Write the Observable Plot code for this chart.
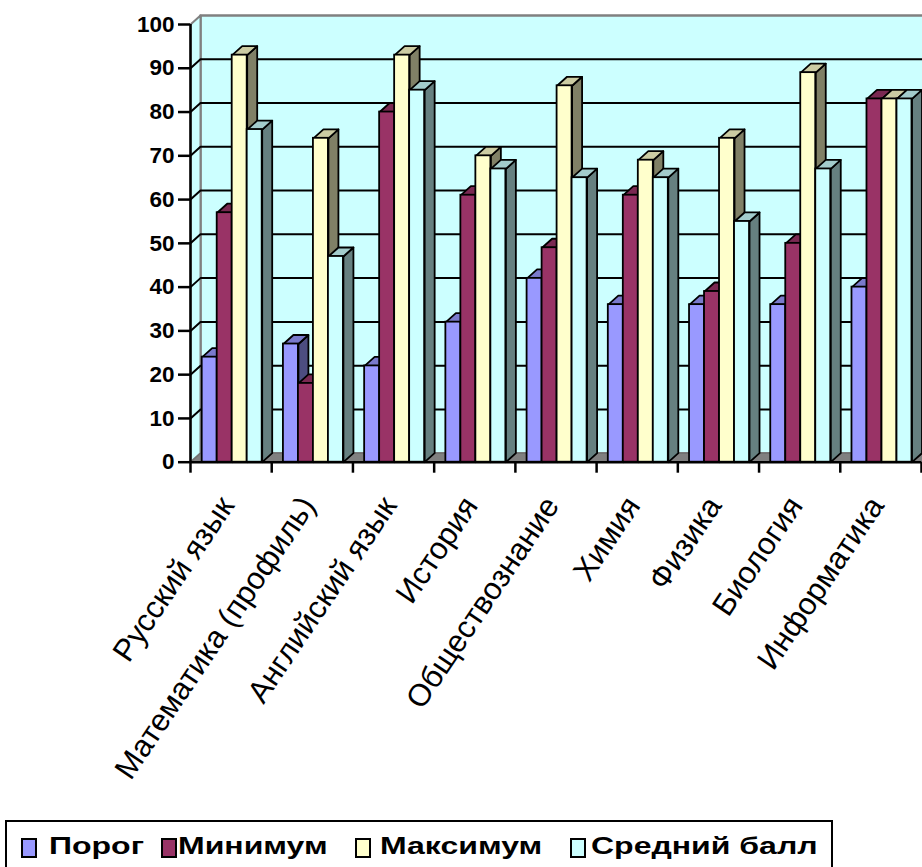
<!DOCTYPE html>
<html>
<head>
<meta charset="utf-8">
<script src="https://cdn.jsdelivr.net/npm/d3@7"></script>
<script src="https://cdn.jsdelivr.net/npm/@observablehq/plot@0.6"></script>
<style>
  html, body { margin: 0; padding: 0; background: #fff; overflow: hidden; }
  #chart svg { display: block; overflow: hidden; }
  #legend { position: relative; width: 922px; height: 47px; font-family: Arial, "Liberation Sans", sans-serif; }
  #legend .box { position: absolute; left: 5px; top: 0; width: 828px; height: 70px; border: 2px solid #000; box-sizing: border-box; }
  #legend .sw { position: absolute; top: 18px; width: 16px; height: 20px; border: 2px solid #000; box-sizing: border-box; }
  #legend .lb { position: absolute; top: 13px; font-size: 32px; line-height: 32px; font-weight: bold; white-space: nowrap; transform: scaleY(0.76); transform-origin: left top; color: #000; }
</style>
</head>
<body>
<div id="chart"></div>
<div id="legend"></div>
<script>
// ---- data ----
const categories = ["Русский язык", "Математика (профиль)", "Английский язык", "История", "Обществознание", "Химия", "Физика", "Биология", "Информатика"];
const seriesNames = ["Порог", "Минимум", "Максимум", "Средний балл"];
const porog   = [24, 27, 22, 32, 42, 36, 36, 36, 40];
const minimum = [57, 18, 80, 61, 49, 61, 39, 50, 83];
const maximum = [93, 74, 93, 70, 86, 69, 74, 89, 83];
const average = [76, 47, 85, 67, 65, 65, 55, 67, 83];
const yTicks = [0, 10, 20, 30, 40, 50, 60, 70, 80, 90, 100];

const seriesValues = [porog, minimum, maximum, average];
const frontColors = ["#9999FF", "#993366", "#FFFFCC", "#CCFFFF"];
const topColors   = ["#7A7ACC", "#7A2952", "#CCCCA3", "#A3CCCC"];
const sideColors  = ["#4D4D80", "#4D1A33", "#808066", "#668080"];

// ---- geometry (pixel constants converted to data units) ----
const W = 922, H = 820;
const mLeft = 190, mRight = 1, mTop = 24, yZero = 461.7;
const nCat = categories.length;
const catPx = (W - mRight - mLeft) / nCat;
const unitPx = (yZero - mTop) / 100;
const depthX = 10 / catPx, depthY = 9 / unitPx;
const gapX = 11.7 / catPx, barW = 15 / catPx;

function poly(id, pts) { return pts.concat([pts[0]]).map(([x, y]) => ({id, x, y})); }

const bars = seriesValues.map((vals, s) => vals.map((v, i) => {
  const xl = i + gapX + s * barW;
  return {s, i, v, xl, xr: xl + barW, cat: categories[i]};
}));
const sides = bars.map(arr => arr.flatMap(b => poly(b.i, [[b.xr, 0], [b.xr + depthX, depthY], [b.xr + depthX, b.v + depthY], [b.xr, b.v]])));
const tops = bars.map(arr => arr.flatMap(b => poly(b.i, [[b.xl, b.v], [b.xr, b.v], [b.xr + depthX, b.v + depthY], [b.xl + depthX, b.v + depthY]])));

const backWall = poly(0, [[depthX, depthY], [nCat + depthX, depthY], [nCat + depthX, 100 + depthY], [depthX, 100 + depthY]]);
const leftWall = poly(0, [[0, 0], [0, 100], [depthX, 100 + depthY], [depthX, depthY]]);
const floor = poly(0, [[0, 0], [nCat, 0], [nCat + depthX, depthY], [depthX, depthY]]);
const grid = yTicks.filter(v => v > 0 && v < 100).flatMap(v => [
  {id: v, x: 0, y: v}, {id: v, x: depthX, y: v + depthY}, {id: v, x: nCat + depthX, y: v + depthY}
]);

const marks = [
  Plot.line(backWall, {x: "x", y: "y", z: "id", fill: "#CCFFFF", stroke: "#808080", strokeWidth: 2.5}),
  Plot.line(leftWall, {x: "x", y: "y", z: "id", fill: "#CCFFFF", stroke: "#808080", strokeWidth: 2}),
  Plot.line(floor, {x: "x", y: "y", z: "id", fill: "#808080", stroke: "#707070", strokeWidth: 1.5}),
  Plot.line(grid, {x: "x", y: "y", z: "id", stroke: "#000", strokeWidth: 2})
];
for (let s = 0; s < seriesValues.length; s++) {
  marks.push(
    Plot.line(sides[s], {x: "x", y: "y", z: "id", fill: sideColors[s], stroke: "#000", strokeWidth: 1.8, strokeLinejoin: "round"}),
    Plot.line(tops[s], {x: "x", y: "y", z: "id", fill: topColors[s], stroke: "#000", strokeWidth: 1.8, strokeLinejoin: "round"}),
    Plot.rect(bars[s], {x1: "xl", x2: "xr", y1: 0, y2: "v", fill: frontColors[s], stroke: "#000", strokeWidth: 1.8})
  );
}
marks.push(
  Plot.ruleX([0], {stroke: "#000", strokeWidth: 2.5}),
  Plot.ruleY([0], {stroke: "#000", strokeWidth: 2.5}),
  Plot.axisY({ticks: yTicks, tickSize: 12, tickPadding: 4, fontSize: 22.5, fontWeight: "bold", strokeWidth: 2.5, tickFormat: d => String(d)}),
  Plot.axisX({ticks: d3.range(0, nCat + 1), tickSize: 11, strokeWidth: 2.5, tickFormat: () => ""}),
  Plot.text(categories, {x: (d, i) => i + 0.5, y: 0, text: d => d, rotate: -56, textAnchor: "end", dx: -4, dy: 38, fontSize: 31, fill: "#000"})
);

const chart = Plot.plot({
  width: W, height: H,
  marginLeft: mLeft, marginRight: mRight, marginTop: mTop, marginBottom: H - yZero,
  x: {type: "linear", domain: [0, nCat], axis: null},
  y: {type: "linear", domain: [0, 100], axis: null},
  style: {fontFamily: "Arial, 'Liberation Sans', sans-serif", color: "#000", background: "#fff"},
  marks
});
document.getElementById("chart").appendChild(chart);

// ---- legend ----
const legend = document.getElementById("legend");
const box = document.createElement("div"); box.className = "box"; legend.appendChild(box);
const swLeft = [21, 161, 355, 570];
const lbLeft = [49, 178, 380, 591];
seriesNames.forEach((name, s) => {
  const sw = document.createElement("div"); sw.className = "sw";
  sw.style.left = swLeft[s] + "px"; sw.style.background = frontColors[s];
  legend.appendChild(sw);
  const lb = document.createElement("div"); lb.className = "lb";
  lb.style.left = lbLeft[s] + "px"; lb.textContent = name;
  legend.appendChild(lb);
});
</script>
</body>
</html>
